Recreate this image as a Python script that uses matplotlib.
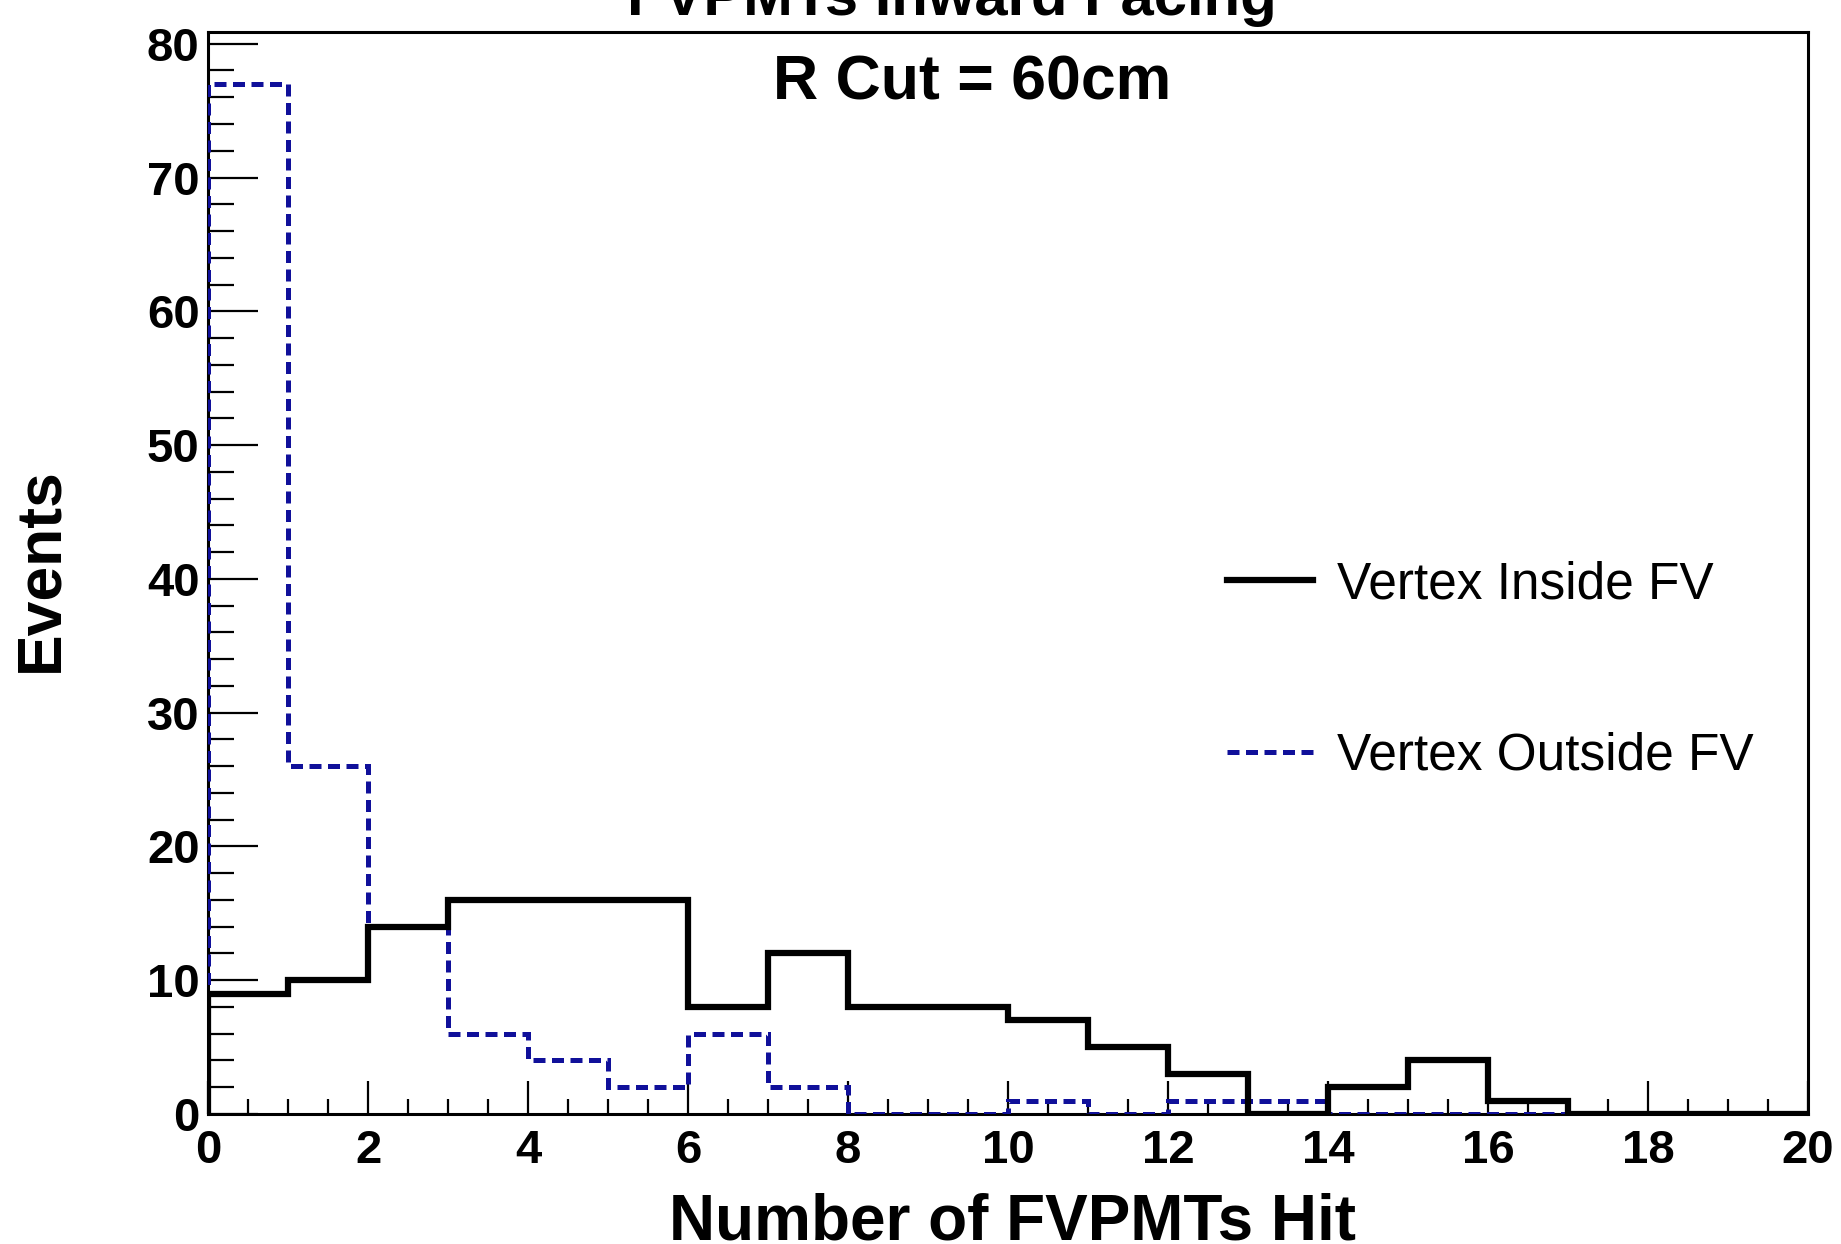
import numpy as np
import matplotlib.pyplot as plt
from matplotlib.ticker import MultipleLocator

plt.rcParams['font.family'] = ['Liberation Sans', 'DejaVu Sans']

# bin edges: number of FVPMTs hit, 0..20 in steps of 1
edges = np.arange(0, 21)
# events with vertex inside the fiducial volume
inside = [9, 10, 14, 16, 16, 16, 8, 12, 8, 8, 7, 5, 3, 0, 2, 4, 1, 0, 0, 0]
# events with vertex outside the fiducial volume
outside = [77, 26, 14, 6, 4, 2, 6, 2, 0, 0, 1, 0, 1, 1, 0, 0, 0, 0, 0, 0]

fig = plt.figure(figsize=(18.41, 12.44), dpi=100)
ax = fig.add_axes([0.113, 0.1045, 0.869, 0.8695])

# outside first so the solid histogram sits on top
ax.stairs(outside, edges, color='#10109a', lw=3.6, ls=(0, (2.4, 1.3)),
          label='Vertex Outside FV', zorder=3)
ax.stairs(inside, edges, color='black', lw=4.5, label='Vertex Inside FV', zorder=4)

ax.set_xlim(0, 20)
ax.set_ylim(0, max(outside) * 1.05)

ax.xaxis.set_major_locator(MultipleLocator(2))
ax.xaxis.set_minor_locator(MultipleLocator(0.5))
ax.yaxis.set_major_locator(MultipleLocator(10))
ax.yaxis.set_minor_locator(MultipleLocator(2))
ax.tick_params(axis='x', which='major', direction='in', length=24, width=1.6, pad=11,
               top=False, labelsize=34)
ax.tick_params(axis='x', which='minor', direction='in', length=11, width=1.6, top=False)
ax.tick_params(axis='y', which='major', direction='in', length=36, width=1.6, pad=6,
               right=False, labelsize=34)
ax.tick_params(axis='y', which='minor', direction='in', length=19, width=1.6, right=False)
for lab in ax.get_xticklabels() + ax.get_yticklabels():
    lab.set_fontweight('bold')
for sp in ax.spines.values():
    sp.set_linewidth(2.2)

fig.text(0.55, 0.004, 'Number of FVPMTs Hit', ha='center', va='baseline',
         fontsize=46, fontweight='bold')
fig.text(0.022, 0.542, 'Events', ha='center', va='center', rotation=90,
         fontsize=45, fontweight='bold')
fig.text(0.517, 0.988, 'FVPMTs Inward Facing', ha='center', va='baseline',
         fontsize=43, fontweight='bold')
fig.text(0.528, 0.920, 'R Cut = 60cm', ha='center', va='baseline',
         fontsize=45, fontweight='bold')

handles, labels = ax.get_legend_handles_labels()
leg = ax.legend(handles[::-1], labels[::-1], loc='center left',
                bbox_to_anchor=(0.637, 0.41), frameon=False, fontsize=37,
                borderpad=0, borderaxespad=0, handlelength=1.68,
                handletextpad=0.46, labelspacing=2.38)

fig.savefig('out.png', dpi=100)
